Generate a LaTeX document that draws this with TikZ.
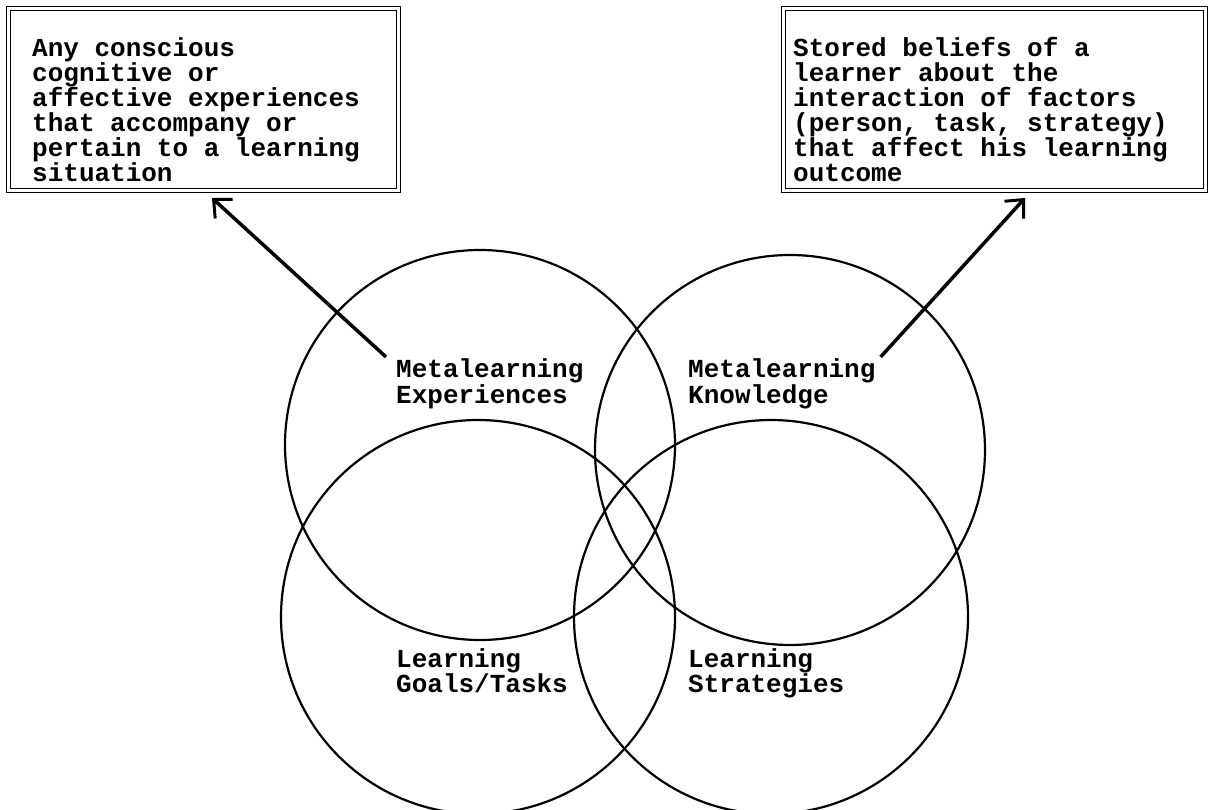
\documentclass[tikz,border=0pt]{standalone}
\usepackage{fontspec}
\setmonofont{Liberation Mono}
\usetikzlibrary{arrows.meta}

\newcommand\typedfont{\ttfamily\bfseries\fontsize{26}{25}\selectfont\lineskiplimit=-20pt\relax}

\tikzset{
  ring/.style={circle, draw, line width=2.2pt, inner sep=0pt},
  notebox/.style={draw, double, double distance=2.5pt, line width=1pt, inner sep=0pt},
  typed/.style={font=\typedfont, align=left, inner sep=0pt, anchor=base west},
  pointer/.style={line width=3.5pt, -{Straight Barb[length=14pt,width=26pt,line width=3pt]}}
}

\begin{document}
\begin{tikzpicture}[x=1pt,y=-1pt]
\useasboundingbox (0,0) rectangle (1211,810);

%% boxes
\node[notebox, minimum width=390pt, minimum height=182pt, anchor=north west] (expbox) at (8,8) {};
\node[notebox, minimum width=422pt, minimum height=182pt, anchor=north west] (knobox) at (783,8) {};
%% (base = last line)
\node[typed] (exptext) at (32,182) {Any conscious\\cognitive or\\affective experiences\\that accompany or\\pertain to a learning\\situation};
\node[typed] (knotext) at (793,182) {Stored beliefs of a\\learner about the\\interaction of factors\\(person, task, strategy)\\that affect his learning\\outcome};

%% circles
\node[ring, minimum size=390pt] (exp) at (480,445) {};   %% experiences
\node[ring, minimum size=390pt] (kno) at (790,450) {};   %% knowledge
\node[ring, minimum size=394pt] (goal) at (478,617) {};  %% goals/tasks
\node[ring, minimum size=394pt] (strat) at (771,617) {}; %% strategies

%% circle labels
\node[typed] (explabel) at (396,403) {Metalearning\\Experiences};
\node[typed] (knolabel) at (688,403) {Metalearning\\Knowledge};
\node[typed] (goallabel) at (396,692) {Learning\\Goals/Tasks};
\node[typed] (stratlabel) at (688,692) {Learning\\Strategies};

%% arrows
\coordinate (expin) at (212,198);
\coordinate (knoin) at (1025,198);
\draw[pointer] ([xshift=-10pt,yshift=2pt]explabel.north west) -- (expin);
\draw[pointer] ([xshift=5pt,yshift=2pt]knolabel.north east) -- (knoin);
\end{tikzpicture}
\end{document}
